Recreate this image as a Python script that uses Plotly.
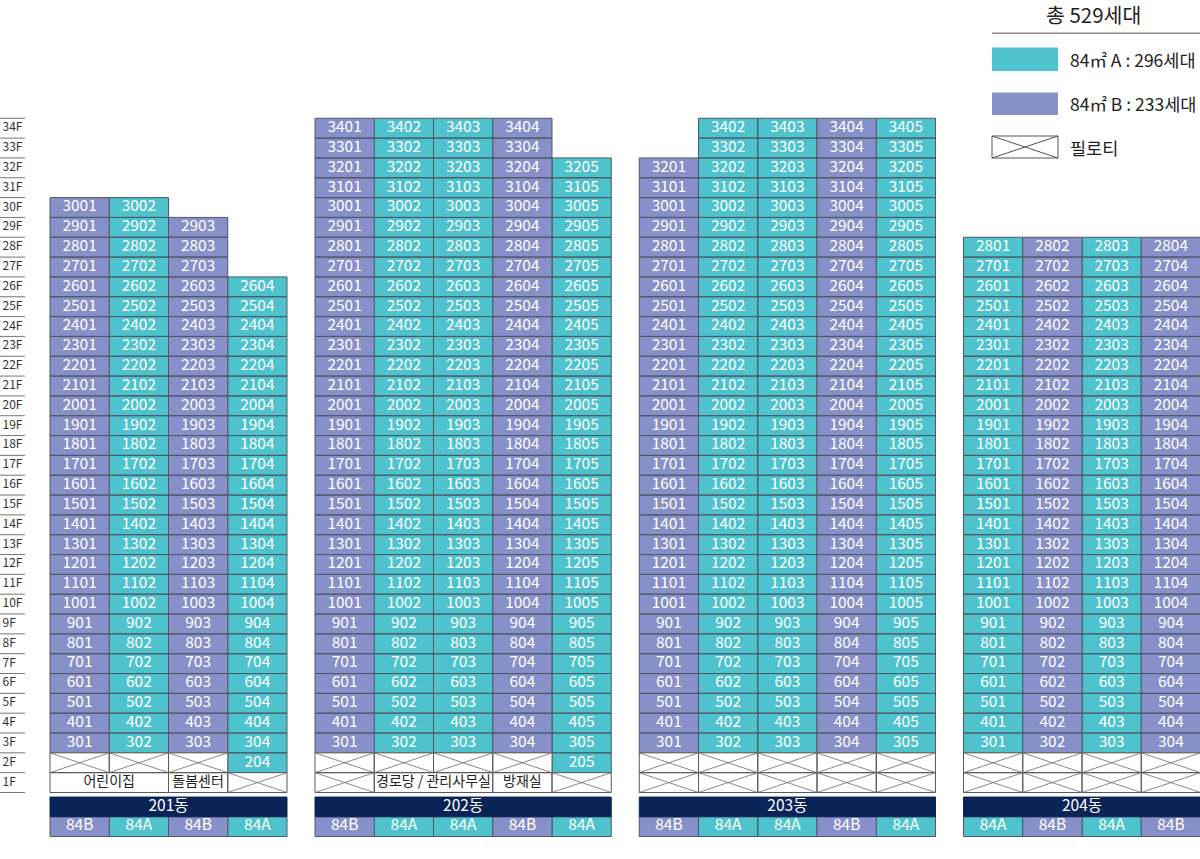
import plotly.graph_objects as go

# ---------------- data ----------------
FLOORS = list(range(1, 35))
FLOOR_LABELS = [f"{f}F" for f in FLOORS]

BUILDINGS = ["201동", "202동", "203동", "204동"]

TYPES_201 = ["84B", "84A", "84B", "84A"]
TOP_201 = [30, 30, 29, 26]
BOTTOM_201 = [3, 3, 3, 2]
FAC_201 = [("어린이집", 1, 2), ("돌봄센터", 3, 1)]  # (label, first column, span) on 1F

TYPES_202 = ["84B", "84A", "84A", "84B", "84A"]
TOP_202 = [34, 34, 34, 34, 32]
BOTTOM_202 = [3, 3, 3, 3, 2]
FAC_202 = [("경로당 / 관리사무실", 2, 2), ("방재실", 4, 1)]

TYPES_203 = ["84B", "84A", "84A", "84B", "84A"]
TOP_203 = [32, 34, 34, 34, 34]
BOTTOM_203 = [3, 3, 3, 3, 3]
FAC_203 = []

TYPES_204 = ["84A", "84B", "84A", "84B"]
TOP_204 = [28, 28, 28, 28]
BOTTOM_204 = [3, 3, 3, 3]
FAC_204 = []

TYPE_NAMES = {"84A": "84㎡ A", "84B": "84㎡ B"}
PILOTI_NAME = "필로티"

# ---------------- style ----------------
W, H = 1200, 859
X_START, COL_W, GAP = 50.0, 59.25, 28.0
ROW_H = 19.83
BOTTOM_PX = 792.5  # pixel row of 1F bottom edge
COLORS = {"84A": "#4fc3cd", "84B": "#8790c8"}
NAVY = "#0b2457"
BORDER = "#4d5866"
GREY = "#5a5a5a"
FONT = "Noto Sans CJK KR, Noto Sans, sans-serif"

Y_MIN = 0.5 - (H - BOTTOM_PX) / ROW_H
Y_MAX = 0.5 + BOTTOM_PX / ROW_H
NAME_BAR = (-0.72, 0.27)
TYPE_ROW = (-1.72, -0.72)

bldg_data = [
    (BUILDINGS[0], TYPES_201, TOP_201, BOTTOM_201, FAC_201),
    (BUILDINGS[1], TYPES_202, TOP_202, BOTTOM_202, FAC_202),
    (BUILDINGS[2], TYPES_203, TOP_203, BOTTOM_203, FAC_203),
    (BUILDINGS[3], TYPES_204, TOP_204, BOTTOM_204, FAC_204),
]


def rect(xs, ys, x0, x1, y0, y1):
    xs += [x0, x1, x1, x0, x0, None]
    ys += [y0, y0, y1, y1, y0, None]


def cross(xs, ys, x0, x1, y0, y1):
    xs += [x0, x1, None, x0, x1, None]
    ys += [y0, y1, None, y1, y0, None]


fill = {"84A": ([], []), "84B": ([], [])}
navy_xs, navy_ys = [], []
white_xs, white_ys = [], []
cross_xs, cross_ys = [], []
ut_x, ut_y, ut_t = [], [], []          # unit numbers (white)
lb_x, lb_y, lb_t = [], [], []          # labels in navy bar / type row (white)
fc_x, fc_y, fc_t = [], [], []          # facility labels (dark)
counts = {"84A": 0, "84B": 0}

x_cursor = X_START
for name, types, tops, bottoms, facs in bldg_data:
    ncol = len(types)
    bx0 = x_cursor
    bx1 = bx0 + ncol * COL_W
    covered = {}
    for label, c0, span in facs:
        for k in range(span):
            covered[c0 - 1 + k] = True
        fx0 = bx0 + (c0 - 1) * COL_W
        fx1 = fx0 + span * COL_W
        rect(white_xs, white_ys, fx0, fx1, 0.5, 1.5)
        fc_x.append((fx0 + fx1) / 2); fc_y.append(1); fc_t.append(label)
    for c, (t, top, bot) in enumerate(zip(types, tops, bottoms)):
        x0 = bx0 + c * COL_W
        x1 = x0 + COL_W
        xs, ys = fill[t]
        for f in range(bot, top + 1):
            rect(xs, ys, x0, x1, f - 0.5, f + 0.5)
            ut_x.append((x0 + x1) / 2); ut_y.append(f); ut_t.append(f"{f}{c + 1:02d}")
            counts[t] += 1
        for f in range(1, bot):
            if f == 1 and c in covered:
                continue
            rect(white_xs, white_ys, x0, x1, f - 0.5, f + 0.5)
            cross(cross_xs, cross_ys, x0, x1, f - 0.5, f + 0.5)
        # type row
        rect(xs, ys, x0, x1, TYPE_ROW[0], TYPE_ROW[1])
        lb_x.append((x0 + x1) / 2); lb_y.append(sum(TYPE_ROW) / 2); lb_t.append(t)
    rect(navy_xs, navy_ys, bx0, bx1, NAME_BAR[0], NAME_BAR[1])
    lb_x.append((bx0 + bx1) / 2); lb_y.append(sum(NAME_BAR) / 2); lb_t.append(name)
    x_cursor = bx1 + GAP

fig = go.Figure()
for t in ["84A", "84B"]:
    xs, ys = fill[t]
    fig.add_trace(go.Scatter(x=xs, y=ys, mode="lines", fill="toself", fillcolor=COLORS[t],
                             line=dict(color=BORDER, width=1), hoverinfo="skip", showlegend=False))
fig.add_trace(go.Scatter(x=white_xs, y=white_ys, mode="lines", fill="toself", fillcolor="white",
                         line=dict(color=GREY, width=1), hoverinfo="skip", showlegend=False))
fig.add_trace(go.Scatter(x=cross_xs, y=cross_ys, mode="lines",
                         line=dict(color="#6a6a6a", width=0.8), hoverinfo="skip", showlegend=False))
fig.add_trace(go.Scatter(x=navy_xs, y=navy_ys, mode="lines", fill="toself", fillcolor=NAVY,
                         line=dict(color=NAVY, width=1), hoverinfo="skip", showlegend=False))
fig.add_trace(go.Scatter(x=ut_x, y=ut_y, text=ut_t, mode="text",
                         textfont=dict(color="white", size=15.5, family=FONT),
                         hoverinfo="skip", showlegend=False))
fig.add_trace(go.Scatter(x=lb_x, y=lb_y, text=lb_t, mode="text",
                         textfont=dict(color="white", size=15.5, family=FONT),
                         hoverinfo="skip", showlegend=False))
fig.add_trace(go.Scatter(x=fc_x, y=fc_y, text=fc_t, mode="text",
                         textfont=dict(color="#222222", size=14, family=FONT),
                         hoverinfo="skip", showlegend=False))

# floor labels with separators
sep_x, sep_y = [], []
for f in FLOORS:
    sep_x += [0, 25, None]
    sep_y += [f - 0.5, f - 0.5, None]
sep_x += [0, 25, None]
sep_y += [FLOORS[-1] + 0.5, FLOORS[-1] + 0.5, None]
fig.add_trace(go.Scatter(x=sep_x, y=sep_y, mode="lines", line=dict(color="#777777", width=1),
                         hoverinfo="skip", showlegend=False))
fig.add_trace(go.Scatter(x=[2.5] * len(FLOORS), y=FLOORS, text=FLOOR_LABELS, mode="text",
                         textposition="middle right",
                         textfont=dict(color="#333333", size=12, family=FONT),
                         hoverinfo="skip", showlegend=False))

# ---------------- legend (drawn) ----------------
def py(px):
    return 1 - px / H

total = counts["84A"] + counts["84B"]
shapes = [
    dict(type="line", xref="x", yref="paper", x0=992, x1=1200, y0=py(33.3), y1=py(33.3),
         line=dict(color="#8a8a8a", width=1.5)),
    dict(type="rect", xref="x", yref="paper", x0=992, x1=1058, y0=py(71), y1=py(47.5),
         fillcolor=COLORS["84A"], line=dict(width=0)),
    dict(type="rect", xref="x", yref="paper", x0=992, x1=1058, y0=py(115), y1=py(92.5),
         fillcolor=COLORS["84B"], line=dict(width=0)),
    dict(type="rect", xref="x", yref="paper", x0=992, x1=1058, y0=py(158), y1=py(136),
         fillcolor="white", line=dict(color="#555555", width=1)),
    dict(type="line", xref="x", yref="paper", x0=992, x1=1058, y0=py(158), y1=py(136),
         line=dict(color="#555555", width=1)),
    dict(type="line", xref="x", yref="paper", x0=992, x1=1058, y0=py(136), y1=py(158),
         line=dict(color="#555555", width=1)),
]
annos = [
    dict(text=f"총 {total}세대", x=1093, y=py(14), xref="x", yref="paper", showarrow=False,
         font=dict(size=20.5, color="#222222", family=FONT), xanchor="center", yanchor="middle"),
    dict(text=f"{TYPE_NAMES['84A']} : {counts['84A']}세대", x=1068, y=py(59), xref="x", yref="paper",
         showarrow=False, font=dict(size=17.5, color="#222222", family=FONT), xanchor="left", yanchor="middle"),
    dict(text=f"{TYPE_NAMES['84B']} : {counts['84B']}세대", x=1068, y=py(103.5), xref="x", yref="paper",
         showarrow=False, font=dict(size=17.5, color="#222222", family=FONT), xanchor="left", yanchor="middle"),
    dict(text=PILOTI_NAME, x=1068, y=py(147), xref="x", yref="paper",
         showarrow=False, font=dict(size=17.5, color="#222222", family=FONT), xanchor="left", yanchor="middle"),
]

fig.update_layout(
    width=W, height=H, margin=dict(l=0, r=0, t=0, b=0),
    paper_bgcolor="white", plot_bgcolor="white",
    xaxis=dict(range=[0, W], visible=False, fixedrange=True),
    yaxis=dict(range=[Y_MIN, Y_MAX], visible=False, fixedrange=True),
    shapes=shapes, annotations=annos, showlegend=False,
)
fig.write_html(
    "out.html",
    config={"displayModeBar": False},
    post_script="document.body.style.margin='0';document.body.style.overflow='hidden';"
                "document.documentElement.style.overflow='hidden';",
)
